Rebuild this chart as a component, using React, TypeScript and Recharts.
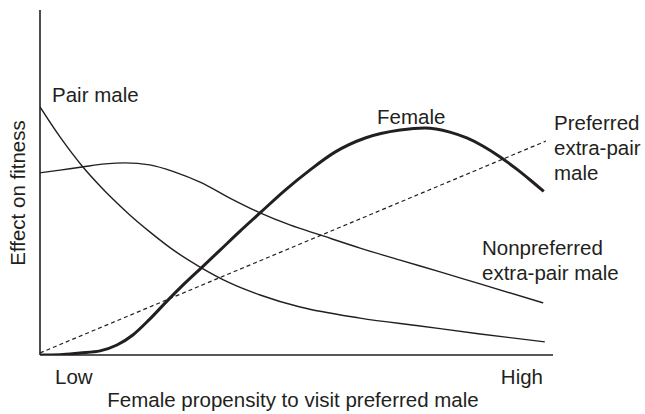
import React from "react";
import { LineChart, Line, XAxis, YAxis, ReferenceLine } from "recharts";

// x: female propensity (0 = low, 100 = high), y: effect on fitness (0..100)
const pairMale = [
  { x: 0, y: 71.9 },
  { x: 3.9, y: 63.2 },
  { x: 8.2, y: 54.8 },
  { x: 11.7, y: 49.0 },
  { x: 14.2, y: 45.2 },
  { x: 17.5, y: 40.6 },
  { x: 21.4, y: 35.7 },
  { x: 26.3, y: 30.1 },
  { x: 31.2, y: 25.5 },
  { x: 37.0, y: 20.9 },
  { x: 42.9, y: 17.4 },
  { x: 50.7, y: 13.9 },
  { x: 62.4, y: 10.7 },
  { x: 74.1, y: 8.4 },
  { x: 85.8, y: 6.1 },
  { x: 98.4, y: 3.8 },
];

const nonpreferredMale = [
  { x: 0, y: 52.8 },
  { x: 3.9, y: 53.6 },
  { x: 8.2, y: 54.5 },
  { x: 12.7, y: 55.4 },
  { x: 16.6, y: 55.7 },
  { x: 21.4, y: 55.1 },
  { x: 26.3, y: 53.0 },
  { x: 31.2, y: 50.1 },
  { x: 37.0, y: 45.5 },
  { x: 42.9, y: 41.2 },
  { x: 48.7, y: 37.7 },
  { x: 54.6, y: 34.8 },
  { x: 62.4, y: 31.0 },
  { x: 70.2, y: 27.5 },
  { x: 78.0, y: 24.1 },
  { x: 85.8, y: 20.6 },
  { x: 98.1, y: 15.1 },
];

const female = [
  { x: 0, y: 0 },
  { x: 3.9, y: 0.1 },
  { x: 7.8, y: 0.6 },
  { x: 11.7, y: 1.2 },
  { x: 15.0, y: 2.9 },
  { x: 18.1, y: 5.8 },
  { x: 21.4, y: 10.4 },
  { x: 24.8, y: 15.7 },
  { x: 28.1, y: 20.6 },
  { x: 31.4, y: 25.2 },
  { x: 35.1, y: 30.4 },
  { x: 39.0, y: 35.9 },
  { x: 42.9, y: 41.2 },
  { x: 47.8, y: 47.8 },
  { x: 52.6, y: 53.6 },
  { x: 57.5, y: 58.8 },
  { x: 63.4, y: 62.9 },
  { x: 70.2, y: 65.2 },
  { x: 75.0, y: 65.8 },
  { x: 79.9, y: 64.6 },
  { x: 83.2, y: 62.9 },
  { x: 86.4, y: 60.5 },
  { x: 89.7, y: 57.4 },
  { x: 93.0, y: 53.8 },
  { x: 95.5, y: 50.8 },
  { x: 98.2, y: 47.4 },
];

const preferredMale = [
  { x: 0, y: 0.6 },
  { x: 98.6, y: 62.0 },
];

const INK = "#231f20";
const FONT = "'Liberation Sans', Arial, Helvetica, sans-serif";

export default function App() {
  const textStyle = { fontFamily: FONT, fontSize: 20.5, fill: INK };

  return (
    <div style={{ position: "absolute", left: 0, top: 0, width: 645, height: 414, background: "#fff" }}>
      <LineChart width={645} height={414} margin={{ top: 10, right: 92, bottom: 59, left: 40 }}>
        <XAxis type="number" dataKey="x" domain={[0, 100]} allowDataOverflow hide />
        <YAxis type="number" dataKey="y" domain={[0, 100]} allowDataOverflow hide />
        <ReferenceLine x={0} stroke={INK} strokeWidth={1.6} />
        <ReferenceLine y={0} stroke={INK} strokeWidth={1.6} />
        <Line
          data={pairMale}
          dataKey="y"
          type="monotone"
          stroke={INK}
          strokeWidth={1.4}
          dot={false}
          isAnimationActive={false}
        />
        <Line
          data={nonpreferredMale}
          dataKey="y"
          type="monotone"
          stroke={INK}
          strokeWidth={1.4}
          dot={false}
          isAnimationActive={false}
        />
        <Line
          data={preferredMale}
          dataKey="y"
          type="linear"
          stroke={INK}
          strokeWidth={1.2}
          strokeDasharray="4 3"
          dot={false}
          isAnimationActive={false}
        />
        <Line
          data={female}
          dataKey="y"
          type="monotone"
          stroke={INK}
          strokeWidth={3}
          dot={false}
          isAnimationActive={false}
        />
      </LineChart>

      {/* annotations */}
      <svg
        width={645}
        height={414}
        style={{ position: "absolute", left: 0, top: 0, pointerEvents: "none" }}
      >
        <text x={52} y={102} style={textStyle}>Pair male</text>
        <text x={377} y={124} style={textStyle}>Female</text>
        <text x={554} y={130} style={textStyle}>Preferred</text>
        <text x={554} y={155} style={textStyle}>extra-pair</text>
        <text x={554} y={180} style={textStyle}>male</text>
        <text x={482} y={255} style={textStyle}>Nonpreferred</text>
        <text x={482} y={280} style={textStyle}>extra-pair male</text>
        <text x={55} y={384} style={textStyle}>Low</text>
        <text x={543} y={384} textAnchor="end" style={textStyle}>High</text>
        <text x={293} y={407} textAnchor="middle" style={textStyle}>
          Female propensity to visit preferred male
        </text>
        <text x={0} y={0} transform="translate(25,193) rotate(-90)" textAnchor="middle" style={textStyle}>
          Effect on fitness
        </text>
      </svg>
    </div>
  );
}
